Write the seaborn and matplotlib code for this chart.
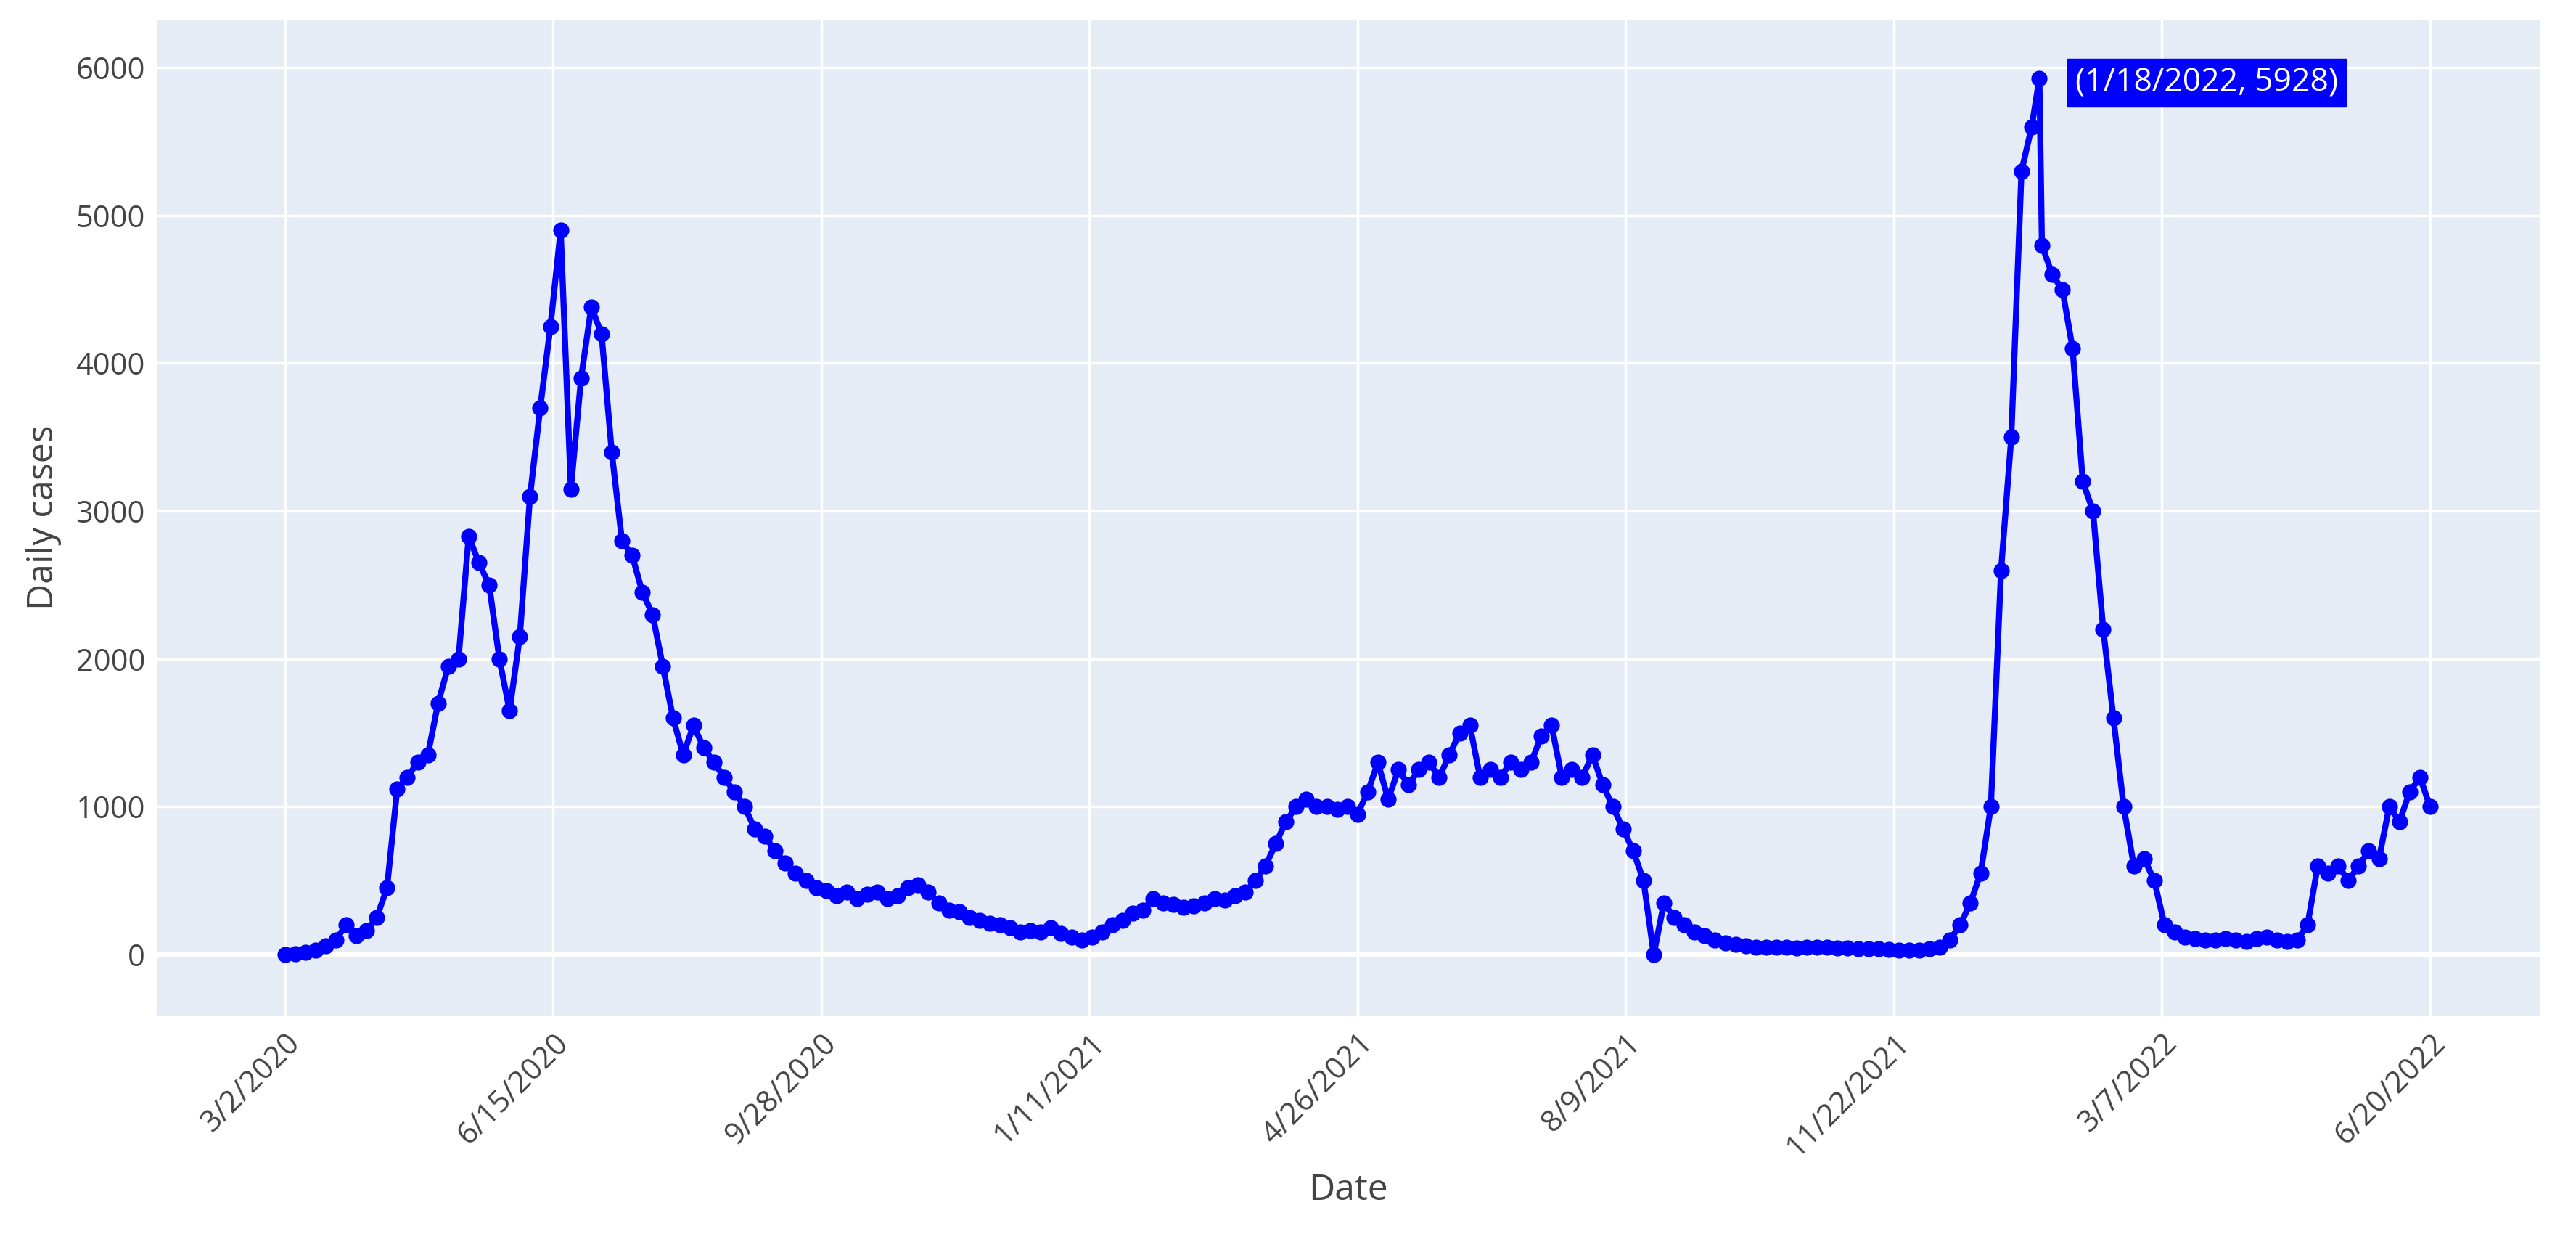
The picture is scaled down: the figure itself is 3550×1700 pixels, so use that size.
import matplotlib.pyplot as plt
import seaborn as sns
import pandas as pd

sns.set_style("whitegrid")
plt.rcParams['font.family'] = ['Open Sans', 'DejaVu Sans']

# ---------------- DATA ----------------
start_date = "2020-03-02"
end_date = "2022-06-20"
step = "4D"
daily_cases = [
    0, 5, 15, 30, 60, 100, 200, 130, 160, 250,
    450, 1120, 1200, 1300, 1350, 1700, 1950, 2000, 2830, 2650,
    2500, 2000, 1650, 2150, 3100, 3700, 4250, 4900, 3150, 3900,
    4380, 4200, 3400, 2800, 2700, 2450, 2300, 1950, 1600, 1350,
    1550, 1400, 1300, 1200, 1100, 1000, 850, 800, 700, 620,
    550, 500, 450, 430, 400, 420, 380, 410, 420, 380,
    400, 450, 470, 420, 350, 300, 290, 250, 230, 210,
    200, 180, 150, 160, 150, 180, 140, 120, 100, 120,
    150, 200, 230, 280, 300, 380, 350, 340, 320, 330,
    350, 380, 370, 400, 420, 500, 600, 750, 900, 1000,
    1050, 1000, 1000, 980, 1000, 950, 1100, 1300, 1050, 1250,
    1150, 1250, 1300, 1200, 1350, 1500, 1550, 1200, 1250, 1200,
    1300, 1250, 1300, 1480, 1550, 1200, 1250, 1200, 1350, 1150,
    1000, 850, 700, 500, 0, 350, 250, 200, 150, 130,
    100, 80, 70, 60, 50, 50, 50, 50, 45, 50,
    50, 50, 45, 45, 40, 40, 40, 35, 30, 30,
    30, 40, 50, 100, 200, 350, 550, 1000, 2600, 3500,
    5300, 5600, 4800, 4600, 4500, 4100, 3200, 3000, 2200, 1600,
    1000, 600, 650, 500, 200, 150, 120, 110, 100, 100,
    110, 100, 90, 110, 120, 100, 90, 100, 200, 600,
    550, 600, 500, 600, 700, 650, 1000, 900, 1100, 1200, 1000,
]
peak_date = "2022-01-18"
peak_value = 5928
tick_labels = ["3/2/2020", "6/15/2020", "9/28/2020", "1/11/2021", "4/26/2021",
               "8/9/2021", "11/22/2021", "3/7/2022", "6/20/2022"]

df = pd.DataFrame({"Date": pd.date_range(start_date, end_date, freq=step),
                   "cases": daily_cases})
df = pd.concat([df, pd.DataFrame({"Date": [pd.Timestamp(peak_date)], "cases": [peak_value]})])
df = df.sort_values("Date")

# ---------------- PLOT ----------------
fig, ax = plt.subplots(figsize=(35.5, 17), dpi=100)
fig.subplots_adjust(left=0.061, right=0.986, top=0.984, bottom=0.177)
ax.set_facecolor("#E5ECF6")
txt = "#444444"

sns.lineplot(data=df, x="Date", y="cases", ax=ax, color="#0000FF", linewidth=6,
             marker="o", markersize=16, markeredgewidth=0)

ax.set_xlim(pd.Timestamp(start_date) - pd.Timedelta(days=50),
            pd.Timestamp(end_date) + pd.Timedelta(days=43))
ax.set_ylim(-413, 6324)
ax.set_xticks(pd.to_datetime(tick_labels, format="%m/%d/%Y"))
ax.set_xticklabels(tick_labels, rotation=45, ha="right", rotation_mode="anchor")
ax.set_yticks(range(0, 6001, 1000))
ax.tick_params(labelsize=30, colors=txt, length=0, pad=12)
ax.grid(color="white", linewidth=2.5)
ax.axhline(0, color="white", linewidth=5, zorder=1)
for s in ax.spines.values():
    s.set_visible(False)
ax.set_xlabel("Date", fontsize=36, color=txt, labelpad=10)
ax.set_ylabel("Daily cases", fontsize=36, color=txt, labelpad=14)

ax.annotate(f"(1/18/2022, {peak_value})", xy=(pd.Timestamp(peak_date), peak_value),
            xytext=(pd.Timestamp(peak_date) + pd.Timedelta(days=14), peak_value - 30),
            fontsize=32, color="white", va="center",
            bbox=dict(boxstyle="square,pad=0.25", fc="#0000FF", ec="#0000FF"))

fig.savefig("out.png")
